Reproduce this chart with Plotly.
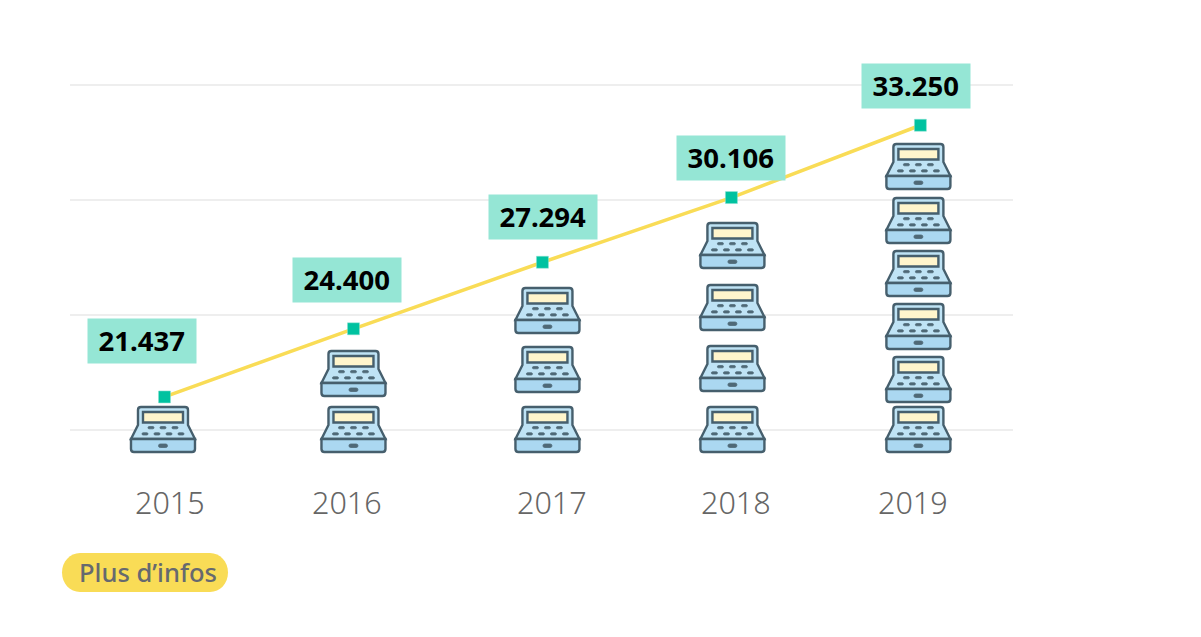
import plotly.graph_objects as go

years = [2015, 2016, 2017, 2018, 2019]
subscribers = [21437, 24400, 27294, 30106, 33250]
value_labels = ["21.437", "24.400", "27.294", "30.106", "33.250"]
year_labels = ["2015", "2016", "2017", "2018", "2019"]
grid_values = [20000, 25000, 30000, 35000]

# where each icon of a stack sits, in axis units above the base
icon_levels = [
    [0],
    [0, 2435],
    [0, 2609, 5174],
    [0, 2652, 5304, 8000],
    [0, 2174, 4478, 6783, 9087, 11435],
]
icon_base = 19000

# the labels in the picture are not centered on the points, so nudge them (px)
icon_xshift = [-1.5, 0, 5, 1, -2]
box_xshift = [-22, -6, 1, 0, -4.5]
box_yshift = [56, 49, 45, 40, 39]
year_xshift = [5.5, -6.5, 10, 5, -7]

FONT = "Noto Sans"
DARK = "#465f6d"
YELLOW = "#f9dc56"
PX_PER_YEAR = 189


# icon coords are px from the top of the icon, plotly wants y going up
def pt(x, y):
    return f"{x},{47 - y}"


def pill(x0, x1, y0, y1):
    r = (y1 - y0) / 2
    m = (y0 + y1) / 2
    return (f"M{pt(x0 + r, y0)} L{pt(x1 - r, y0)} Q{pt(x1, y0)} {pt(x1, m)} Q{pt(x1, y1)} {pt(x1 - r, y1)} "
            f"L{pt(x0 + r, y1)} Q{pt(x0, y1)} {pt(x0, m)} Q{pt(x0, y0)} {pt(x0 + r, y0)} Z")


body_path = (f"M{pt(-22, 1)} L{pt(22, 1)} Q{pt(25, 1)} {pt(25, 4)} L{pt(25, 19)} L{pt(32, 33)} L{pt(-32, 33)} "
             f"L{pt(-25, 19)} L{pt(-25, 4)} Q{pt(-25, 1)} {pt(-22, 1)} Z")
drawer_path = (f"M{pt(-32, 33)} L{pt(32, 33)} L{pt(32, 43)} Q{pt(32, 46)} {pt(29, 46)} L{pt(-29, 46)} "
               f"Q{pt(-32, 46)} {pt(-32, 43)} Z")
screen_path = f"M{pt(-20, 6)} L{pt(20, 6)} L{pt(20, 16.5)} L{pt(-20, 16.5)} Z"
dots = [pill(x - 3, x + 3, 20.6, 22.8) for x in (-12, 0, 12)]
dots += [pill(x - 3, x + 3, 26.8, 29) for x in (-18, -6, 6, 18)]
dots.append(pill(-4.5, 4.5, 38, 41.5))
dots_path = " ".join(dots)

icon_parts = [
    (body_path, "#bfe3f5", DARK, 2.4),
    (drawer_path, "#abd8f1", DARK, 2.4),
    (screen_path, "#fff5cc", DARK, 2.4),
    (dots_path, "#4f6977", "#4f6977", 0.8),
]

fig = go.Figure()

fig.add_trace(go.Scatter(
    x=years,
    y=subscribers,
    mode="lines+markers",
    line=dict(color=YELLOW, width=3.5),
    marker=dict(symbol="square", size=12, color="#00c2a0", line=dict(color="#8fe3d2", width=0.5)),
    cliponaxis=False,
    hoverinfo="skip",
))

shapes = []
for i, year in enumerate(years):
    for level in icon_levels[i]:
        for path, fill, stroke, width in icon_parts:
            shapes.append(dict(
                type="path",
                xref="x",
                yref="y",
                xsizemode="pixel",
                ysizemode="pixel",
                xanchor=year + icon_xshift[i] / PX_PER_YEAR,
                yanchor=icon_base + level,
                path=path,
                fillcolor=fill,
                line=dict(color=stroke, width=width),
                layer="above",
            ))

# Plus d'infos button
button_path = ("M-65,19.5 L65,19.5 C75,19.5 83,11 83,0 C83,-11 75,-19.5 65,-19.5 L-65,-19.5 "
               "C-75,-19.5 -83,-11 -83,0 C-83,11 -75,19.5 -65,19.5 Z")
shapes.append(dict(
    type="path",
    xref="paper",
    yref="paper",
    xsizemode="pixel",
    ysizemode="pixel",
    xanchor=(145 - 70) / 943,
    yanchor=(476 - 572.5) / 437,
    path=button_path,
    fillcolor=YELLOW,
    line=dict(width=0),
    layer="above",
))

annotations = []
for i, year in enumerate(years):
    annotations.append(dict(
        x=year,
        y=subscribers[i],
        xref="x",
        yref="y",
        text=f"<b>{value_labels[i]}</b>",
        showarrow=False,
        xshift=box_xshift[i],
        yshift=box_yshift[i],
        width=107.5,
        height=43.5,
        borderpad=0,
        bgcolor="#95e6d5",
        font=dict(family=FONT, size=27.5, color="#000000"),
    ))
    annotations.append(dict(
        x=year,
        y=(476 - 502) / 437,
        xref="x",
        yref="paper",
        xanchor="center",
        yanchor="middle",
        text=year_labels[i],
        showarrow=False,
        xshift=year_xshift[i],
        font=dict(family=FONT, size=30.5, color="#666666", weight=300),
    ))

annotations.append(dict(
    x=(147.5 - 70) / 943,
    y=(476 - 572) / 437,
    xref="paper",
    yref="paper",
    xanchor="center",
    yanchor="middle",
    text="Plus d’infos",
    showarrow=False,
    font=dict(family=FONT, size=25.5, color="#66696f", weight=500),
))

fig.update_layout(
    width=1201,
    height=637,
    margin=dict(l=70, r=188, t=39, b=161),
    paper_bgcolor="white",
    plot_bgcolor="white",
    showlegend=False,
    shapes=shapes,
    annotations=annotations,
    xaxis=dict(range=[2014.5, 2019.49], showgrid=False, zeroline=False, showticklabels=False, ticks=""),
    yaxis=dict(
        range=[18000, 37000],
        tickvals=grid_values,
        showticklabels=False,
        ticks="",
        zeroline=False,
        gridcolor="#eeeeee",
        gridwidth=2,
    ),
)

fig.write_html("out.html", config={"displayModeBar": False},
               post_script="document.body.style.margin='0';document.body.style.overflow='hidden';")
